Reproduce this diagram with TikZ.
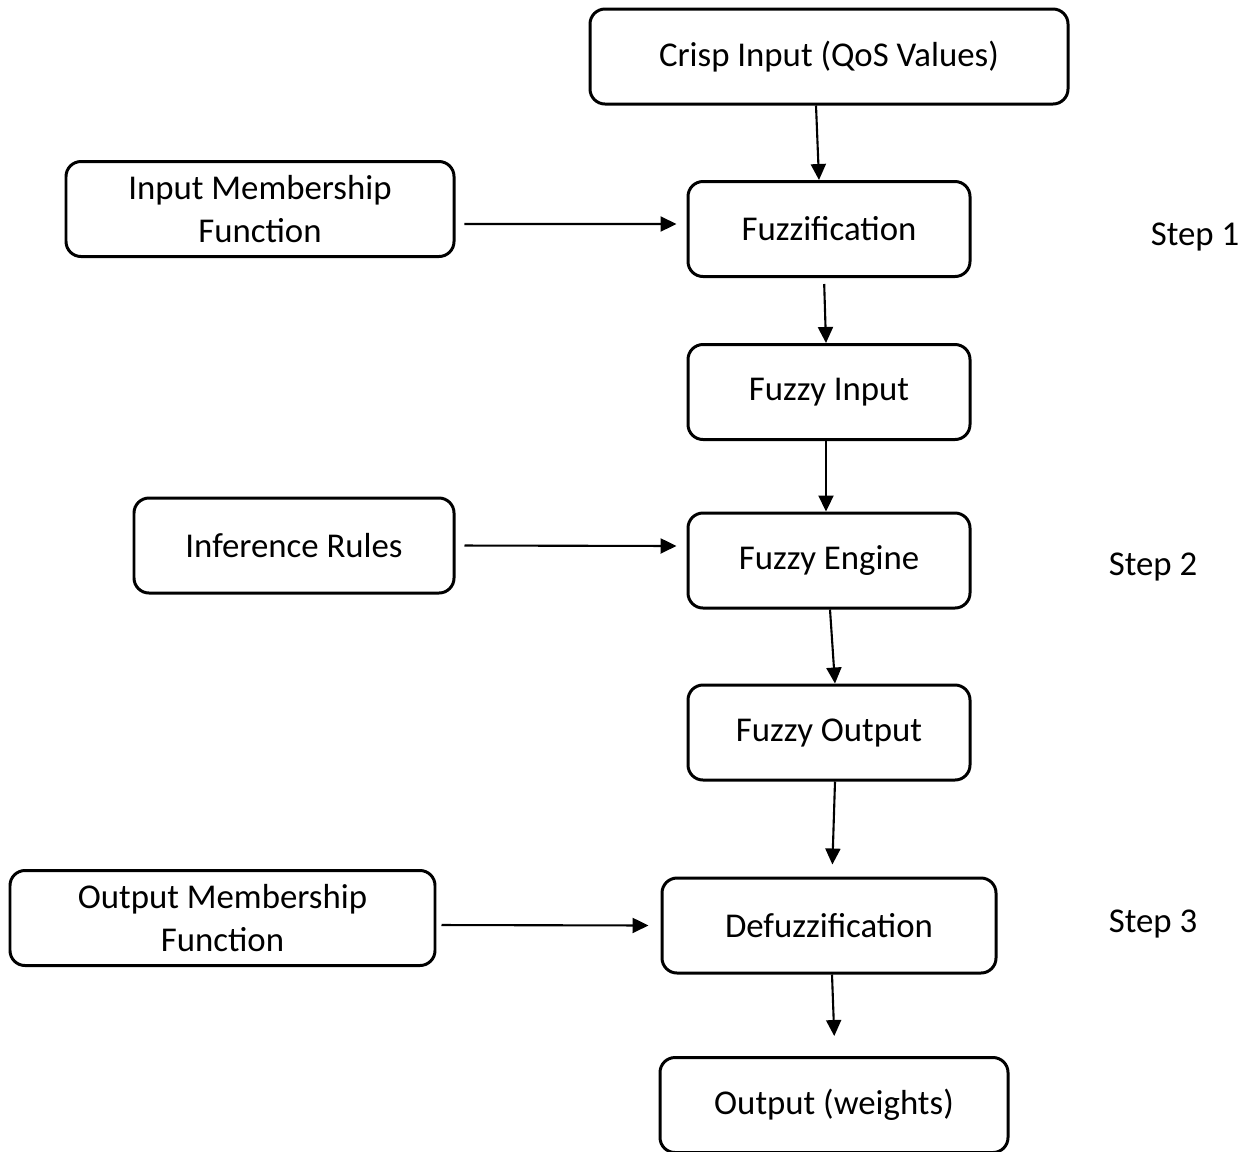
\documentclass[tikz,border=0pt]{standalone}
\usepackage{fontspec}
\setmainfont{Carlito}
\usetikzlibrary{arrows.meta}

\begin{document}
\begin{tikzpicture}[
  box/.style={
    draw, line width=1.7pt, rounded corners=0.3cm,
    minimum height=1.9cm, inner sep=2pt,
    font=\fontsize{19.8}{24.4}\selectfont, align=center
  },
  steplabel/.style={font=\fontsize{19.8}{24.4}\selectfont},
  arr/.style={-{Triangle[length=0.32cm, width=0.3cm]}, line width=1.2pt}
]
\useasboundingbox (0,0) rectangle (25,-23.02);

% --- Main chain (right) ---
\node[box, minimum width=9.56cm] (crisp) at (16.58,-1.13) {Crisp Input (QoS Values)};
\node[box, minimum width=5.64cm] (fuzzif) at (16.58,-4.58) {Fuzzification};
\node[box, minimum width=5.64cm] (fin) at (16.58,-7.84) {Fuzzy Input};
\node[box, minimum width=5.64cm] (eng) at (16.58,-11.21) {Fuzzy Engine};
\node[box, minimum width=5.64cm] (fout) at (16.58,-14.65) {Fuzzy Output};
\node[box, minimum width=6.68cm] (defuz) at (16.58,-18.51) {Defuzzification};
\node[box, minimum width=6.96cm] (out) at (16.68,-22.1) {Output (weights)};

% --- Side inputs (left) ---
\node[box, minimum width=7.76cm] (imf) at (5.2,-4.18) {Input Membership\\Function};
\node[box, minimum width=6.4cm] (inf) at (5.88,-10.91) {Inference Rules};
\node[box, minimum width=8.5cm] (omf) at (4.45,-18.36) {Output Membership\\Function};

% --- Step labels ---
\node[steplabel] (step1) at (23.9,-4.74) {Step 1};
\node[steplabel] (step2) at (23.06,-11.34) {Step 2};
\node[steplabel] (step3) at (23.06,-18.48) {Step 3};

% --- Vertical arrows ---
\draw[arr] ([xshift=-0.26cm]crisp.south) -- ([xshift=-0.2cm]fuzzif.north);
\draw[arr, shorten <=0.12cm] ([xshift=-0.1cm]fuzzif.south) -- ([xshift=-0.06cm]fin.north);
\draw[arr] ([xshift=-0.06cm]fin.south) -- ([xshift=-0.06cm]eng.north);
\draw[arr] ([xshift=0.02cm]eng.south) -- ([xshift=0.12cm]fout.north);
\draw[arr, shorten >=0.24cm] ([xshift=0.12cm]fout.south) -- ([xshift=0.06cm]defuz.north);
\draw[arr, shorten >=0.4cm] ([xshift=0.06cm]defuz.south) -- ([xshift=0.02cm]out.north);

% --- Horizontal arrows ---
\draw[arr, shorten <=0.18cm, shorten >=0.2cm] ([yshift=-0.3cm]imf.east) -- ([yshift=0.1cm]fuzzif.west);
\draw[arr, shorten <=0.18cm, shorten >=0.2cm] (inf.east) -- ([yshift=0.29cm]eng.west);
\draw[arr, shorten <=0.1cm, shorten >=0.24cm] ([yshift=-0.14cm]omf.east) -- (defuz.west);

\end{tikzpicture}
\end{document}
